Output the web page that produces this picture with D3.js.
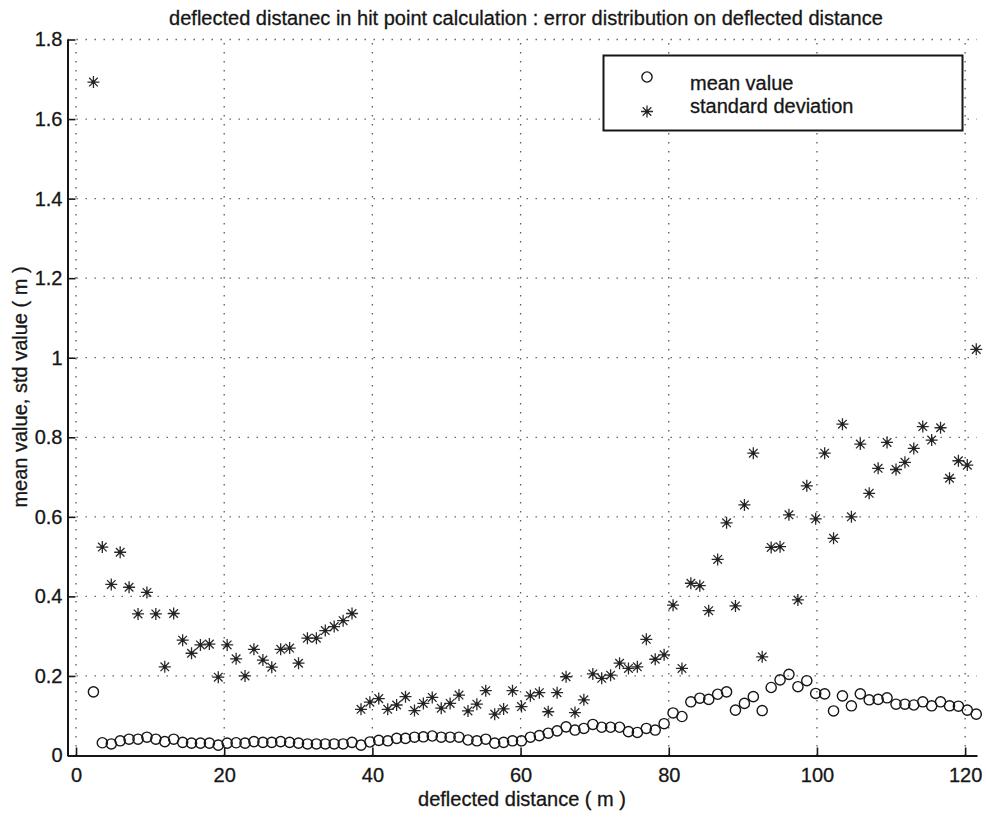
<!DOCTYPE html>
<html>
<head>
<meta charset="utf-8">
<script src="https://cdn.jsdelivr.net/npm/d3@7"></script>
<style>
  html, body { margin: 0; padding: 0; background: #fff; }
  svg { display: block; }
  text { font-family: "Liberation Sans", Arial, Helvetica, sans-serif; fill: #161616; stroke: #161616; stroke-width: 0.3px; }
</style>
</head>
<body>
<svg id="chart" width="986" height="817"></svg>
<script>
// Deflected distance bins (m)
const distance = [
  2.35, 3.55, 4.76, 5.96, 7.16, 8.37, 9.57, 10.77, 11.98, 13.18,
  14.39, 15.59, 16.79, 18.00, 19.20, 20.40, 21.61, 22.81, 24.01, 25.22,
  26.42, 27.62, 28.83, 30.03, 31.23, 32.44, 33.64, 34.84, 36.05, 37.25,
  38.46, 39.66, 40.86, 42.07, 43.27, 44.47, 45.68, 46.88, 48.08, 49.29,
  50.49, 51.69, 52.90, 54.10, 55.30, 56.51, 57.71, 58.91, 60.12, 61.32,
  62.53, 63.73, 64.93, 66.14, 67.34, 68.54, 69.75, 70.95, 72.15, 73.36,
  74.56, 75.76, 76.97, 78.17, 79.37, 80.58, 81.78, 82.98, 84.19, 85.39,
  86.60, 87.80, 89.00, 90.21, 91.41, 92.61, 93.82, 95.02, 96.22, 97.43,
  98.63, 99.83, 101.04, 102.24, 103.44, 104.65, 105.85, 107.05, 108.26, 109.46,
  110.67, 111.87, 113.07, 114.28, 115.48, 116.68, 117.89, 119.09, 120.29, 121.50
];

// Mean error per bin (m)
const meanValue = [
  0.160, 0.032, 0.029, 0.037, 0.041, 0.041, 0.046, 0.041, 0.035, 0.041,
  0.033, 0.031, 0.031, 0.031, 0.026, 0.031, 0.032, 0.031, 0.035, 0.033,
  0.033, 0.035, 0.033, 0.031, 0.029, 0.029, 0.029, 0.029, 0.029, 0.033,
  0.026, 0.034, 0.038, 0.037, 0.043, 0.043, 0.046, 0.047, 0.049, 0.046,
  0.046, 0.046, 0.039, 0.037, 0.041, 0.031, 0.033, 0.037, 0.037, 0.046,
  0.050, 0.056, 0.062, 0.072, 0.064, 0.068, 0.078, 0.071, 0.071, 0.071,
  0.060, 0.058, 0.068, 0.064, 0.080, 0.107, 0.098, 0.135, 0.144, 0.141,
  0.154, 0.160, 0.114, 0.131, 0.148, 0.113, 0.171, 0.190, 0.204, 0.173,
  0.188, 0.156, 0.155, 0.112, 0.150, 0.125, 0.155, 0.140, 0.141, 0.145,
  0.129, 0.129, 0.127, 0.135, 0.125, 0.135, 0.125, 0.124, 0.114, 0.104
];

// Standard deviation of the error per bin (m)
const stdValue = [
  1.693, 0.524, 0.430, 0.511, 0.423, 0.356, 0.410, 0.356, 0.223, 0.357,
  0.290, 0.257, 0.278, 0.280, 0.197, 0.278, 0.243, 0.200, 0.267, 0.240,
  0.222, 0.267, 0.270, 0.232, 0.295, 0.295, 0.314, 0.324, 0.339, 0.357,
  0.116, 0.134, 0.143, 0.116, 0.127, 0.148, 0.113, 0.131, 0.146, 0.119,
  0.131, 0.152, 0.112, 0.129, 0.163, 0.104, 0.117, 0.163, 0.123, 0.150,
  0.158, 0.110, 0.158, 0.198, 0.108, 0.140, 0.205, 0.194, 0.202, 0.232,
  0.219, 0.223, 0.292, 0.242, 0.253, 0.378, 0.219, 0.433, 0.427, 0.364,
  0.493, 0.585, 0.376, 0.630, 0.760, 0.248, 0.523, 0.525, 0.605, 0.391,
  0.678, 0.595, 0.760, 0.546, 0.833, 0.600, 0.783, 0.659, 0.722, 0.787,
  0.719, 0.737, 0.772, 0.827, 0.793, 0.824, 0.697, 0.741, 0.730, 1.021
];

const xTicks = [0, 20, 40, 60, 80, 100, 120];
const yTicks = [0, 0.2, 0.4, 0.6, 0.8, 1, 1.2, 1.4, 1.6, 1.8];
const seriesNames = ["mean value", "standard deviation"];
const titleText = "deflected distanec in hit point calculation : error distribution on deflected distance";
const xLabel = "deflected distance ( m )";
const yLabel = "mean value, std value ( m )";

const svg = d3.select("#chart");
const ink = "#161616";

const x = d3.scaleLinear().domain([-1.15, 121.6]).range([67.5, 977]);
const y = d3.scaleLinear().domain([0, 1.8]).range([755.5, 39.5]);
const [x0, x1] = x.range();
const [yb, yt] = y.range();

// dotted grid
const grid = svg.append("g")
  .attr("stroke", "#5a5a5a")
  .attr("stroke-width", 1.3)
  .attr("stroke-dasharray", "1.4,7.6")
  .attr("fill", "none");
grid.selectAll("line.gx").data(xTicks).join("line")
  .attr("class", "gx")
  .attr("x1", d => x(d)).attr("x2", d => x(d))
  .attr("y1", yb).attr("y2", yt);
grid.selectAll("line.gy").data(yTicks.filter(d => d > 0)).join("line")
  .attr("class", "gy")
  .attr("x1", x0).attr("x2", x1)
  .attr("y1", d => y(d)).attr("y2", d => y(d));

// axes with inward ticks
const fmtY = d => d3.format("~g")(d);
const yAxis = svg.append("g")
  .attr("transform", `translate(${x0},0)`)
  .call(d3.axisLeft(y).tickValues(yTicks).tickFormat(fmtY)
        .tickSizeInner(-8).tickSizeOuter(0).tickPadding(5));
const xAxis = svg.append("g")
  .attr("transform", `translate(0,${yb})`)
  .call(d3.axisBottom(x).tickValues(xTicks).tickFormat(d3.format("d"))
        .tickSizeInner(-8).tickSizeOuter(0).tickPadding(12));
[xAxis, yAxis].forEach(g => {
  g.select(".domain").attr("stroke", ink).attr("stroke-width", 2);
  g.selectAll(".tick line").attr("stroke", ink).attr("stroke-width", 1.6);
  g.selectAll(".tick text")
    .attr("font-size", 20)
    .attr("font-family", "Liberation Sans, Arial, sans-serif")
    .attr("fill", ink);
});

// markers
const starPath = "M-6,0H6M0,-6V6M-4.3,-4.3L4.3,4.3M-4.3,4.3L4.3,-4.3";
function drawStar(g) {
  g.append("path").attr("d", starPath)
    .attr("stroke", "#2a2a2a").attr("stroke-width", 1.3).attr("fill", "none");
  g.append("circle").attr("r", 1.9).attr("fill", "#222");
}

const pts = distance.map((d, i) => ({ d, m: meanValue[i], s: stdValue[i] }));

svg.append("g").selectAll("circle").data(pts).join("circle")
  .attr("cx", p => x(p.d)).attr("cy", p => y(p.m))
  .attr("r", 5.1)
  .attr("fill", "none").attr("stroke", ink).attr("stroke-width", 1.4);

svg.append("g").selectAll("g").data(pts).join("g")
  .attr("transform", p => `translate(${x(p.d)},${y(p.s)})`)
  .each(function () { drawStar(d3.select(this)); });

// titles
svg.append("text").attr("x", 526).attr("y", 25)
  .attr("text-anchor", "middle").attr("font-size", 20).text(titleText);
svg.append("text").attr("x", 522).attr("y", 806)
  .attr("text-anchor", "middle").attr("font-size", 20).text(xLabel);
svg.append("text")
  .attr("transform", "translate(27,387) rotate(-90)")
  .attr("text-anchor", "middle").attr("font-size", 20).text(yLabel);

// legend
const legend = svg.append("g");
legend.append("rect")
  .attr("x", 603.5).attr("y", 55.5).attr("width", 359).attr("height", 75)
  .attr("fill", "#fff").attr("stroke", ink).attr("stroke-width", 2);
legend.append("circle").attr("cx", 647).attr("cy", 77).attr("r", 5.1)
  .attr("fill", "none").attr("stroke", ink).attr("stroke-width", 1.4);
drawStar(legend.append("g").attr("transform", "translate(647,111.5)"));
legend.append("text").attr("x", 690).attr("y", 90).attr("font-size", 20).text(seriesNames[0]);
legend.append("text").attr("x", 690).attr("y", 112.7).attr("font-size", 20).text(seriesNames[1]);
</script>
</body>
</html>
